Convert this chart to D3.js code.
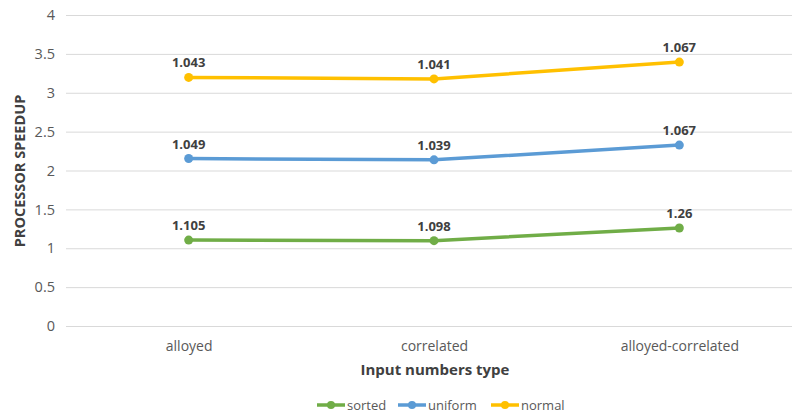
<!DOCTYPE html>
<html>
<head>
<meta charset="utf-8">
<script src="https://cdn.jsdelivr.net/npm/d3@7"></script>
<style>
  html, body { margin: 0; padding: 0; background: #fff; }
  svg { display: block; font-family: "Open Sans", Lato, sans-serif; }
</style>
</head>
<body>
<svg id="chart" width="792" height="415"></svg>
<script>
// Input number distributions (x categories)
const categories = ["alloyed", "correlated", "alloyed-correlated"];
// Speedup per input type, stacked series
const seriesNames = ["sorted", "uniform", "normal"];
const sorted  = [1.105, 1.098, 1.26];
const uniform = [1.049, 1.039, 1.067];
const normal  = [1.043, 1.041, 1.067];
const yTicks  = [0, 0.5, 1, 1.5, 2, 2.5, 3, 3.5, 4];
const colors  = ["#70AD47", "#5B9BD5", "#FFC000"];

const FONT = "'Open Sans', Lato, sans-serif";
const svg = d3.select("#chart");
const W = 792, H = 415;
const margin = { left: 66, right: -10, top: 15, bottom: 89 };

const x = d3.scalePoint().domain(categories)
  .range([margin.left, W - margin.right]).padding(0.5);
const y = d3.scaleLinear().domain([0, 4]).range([H - margin.bottom, margin.top]);

// Gridlines and value axis
svg.append("g")
  .attr("transform", `translate(${margin.left},0)`)
  .call(d3.axisLeft(y).tickValues(yTicks).tickSize(-(W - margin.left)).tickPadding(11)
    .tickFormat(d3.format("~g")))
  .call(g => g.select(".domain").remove())
  .call(g => g.selectAll(".tick line").attr("stroke", "#D9D9D9").attr("stroke-width", 1))
  .call(g => g.selectAll(".tick text").attr("fill", "#595959").attr("font-size", 14.5)
    .attr("font-family", FONT));

// Category labels
svg.append("g")
  .attr("transform", `translate(0,${H - margin.bottom})`)
  .call(d3.axisBottom(x).tickSize(0).tickPadding(15))
  .call(g => g.select(".domain").remove())
  .call(g => g.selectAll(".tick text").attr("fill", "#595959").attr("font-size", 14)
    .attr("font-family", FONT));

// Axis titles
svg.append("text")
  .attr("x", 435).attr("y", 375)
  .attr("text-anchor", "middle")
  .attr("font-size", 15).attr("font-weight", "bold").attr("fill", "#404040")
  .text("Input numbers type");

svg.append("text")
  .attr("transform", "translate(25,171) rotate(-90)")
  .attr("text-anchor", "middle")
  .attr("font-size", 14.5).attr("font-weight", "bold").attr("fill", "#404040")
  .text("PROCESSOR SPEEDUP");

// Stack the series
const raw = [sorted, uniform, normal];
const rows = categories.map((c, i) => {
  const r = { cat: c };
  seriesNames.forEach((s, k) => r[s] = raw[k][i]);
  return r;
});
const stacked = d3.stack().keys(seriesNames)(rows);

const line = d3.line().x(d => x(d.data.cat)).y(d => y(d[1]));

stacked.forEach((layer, k) => {
  const g = svg.append("g");
  g.append("path")
    .datum(layer)
    .attr("fill", "none")
    .attr("stroke", colors[k])
    .attr("stroke-width", 3.5)
    .attr("stroke-linecap", "round")
    .attr("stroke-linejoin", "round")
    .attr("d", line);
  g.selectAll("circle").data(layer).join("circle")
    .attr("cx", d => x(d.data.cat))
    .attr("cy", d => y(d[1]))
    .attr("r", 4.5)
    .attr("fill", colors[k]);
  g.selectAll("text").data(layer).join("text")
    .attr("x", d => x(d.data.cat))
    .attr("y", d => y(d[1]) - 10)
    .attr("text-anchor", "middle")
    .attr("font-size", 13).attr("font-weight", "bold").attr("fill", "#404040")
    .text(d => d.data[layer.key]);
});

// Legend
const legendX = [317, 398, 491];
const legend = svg.append("g");
seriesNames.forEach((s, k) => {
  const lg = legend.append("g").attr("transform", `translate(${legendX[k]},405)`);
  lg.append("line").attr("x1", 0).attr("x2", 28).attr("y1", 0).attr("y2", 0)
    .attr("stroke", colors[k]).attr("stroke-width", 3.5);
  lg.append("circle").attr("cx", 14).attr("cy", 0).attr("r", 4).attr("fill", colors[k]);
  lg.append("text").attr("x", 30).attr("y", 4.5)
    .attr("font-size", 13).attr("fill", "#595959").text(s);
});
</script>
</body>
</html>
